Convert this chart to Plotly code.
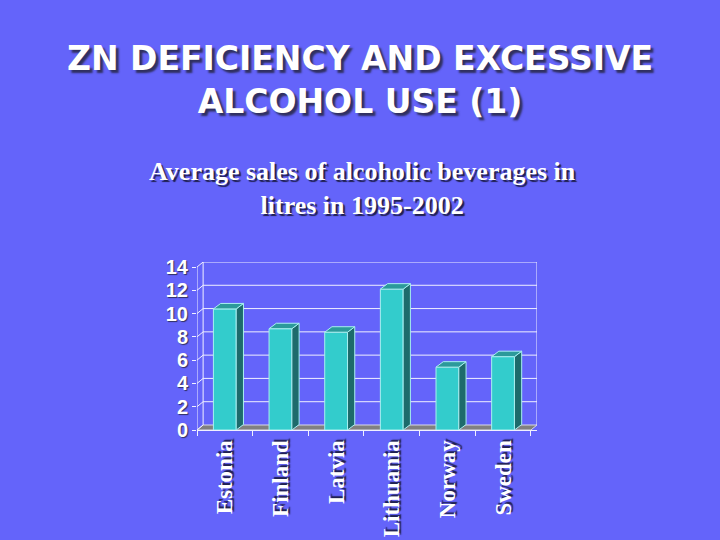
import plotly.graph_objects as go

countries = ["Estonia", "Finland", "Latvia", "Lithuania", "Norway", "Sweden"]
sales = [10.4, 8.7, 8.4, 12.1, 5.4, 6.3]
y_ticks = [0, 2, 4, 6, 8, 10, 12, 14]

BG = "#6464FA"
FRONT = "#33CCCC"
SIDE = "#1D6B6B"
TOP = "#2C9A9A"
LINE = "#F0F0FF"

n = len(countries)
xs = list(range(n))
W = 0.205      # half bar width
DX, DY = 0.13, 0.47     # bar depth offset (data units)
WX, WY = 0.11, 0.43     # wall depth offset
x0, x1 = -0.5, n - 0.5
ymax = max(y_ticks)

fig = go.Figure()

fig.add_trace(go.Bar(x=xs, y=sales, width=2 * W, marker=dict(color=FRONT, line=dict(color="#A8F0F0", width=1)),
                     hoverinfo="skip"))

sx, sy, tx, ty = [], [], [], []
for i, v in zip(xs, sales):
    sx += [i + W, i + W + DX, i + W + DX, i + W, i + W, None]
    sy += [0, DY, v + DY, v, 0, None]
    tx += [i - W, i + W, i + W + DX, i - W + DX, i - W, None]
    ty += [v, v, v + DY, v + DY, v, None]
fig.add_trace(go.Scatter(x=sx, y=sy, fill="toself", fillcolor=SIDE, mode="lines",
                         line=dict(color="#A8F0F0", width=1), hoverinfo="skip"))
fig.add_trace(go.Scatter(x=tx, y=ty, fill="toself", fillcolor=TOP, mode="lines",
                         line=dict(color="#A8F0F0", width=1), hoverinfo="skip"))

shapes = []
shapes.append(dict(type="path", xref="x", yref="y", layer="below",
                   path=f"M {x0} 0 L {x1} 0 L {x1 + WX} {WY} L {x0 + WX} {WY} Z",
                   fillcolor="#808080", line=dict(color="#D8D8E8", width=1)))
for t in y_ticks:
    if t > 0:
        shapes.append(dict(type="line", xref="x", yref="y", layer="below",
                           x0=x0 + WX, x1=x1 + WX, y0=t + WY, y1=t + WY, line=dict(color=LINE, width=1)))
    shapes.append(dict(type="line", xref="x", yref="y", layer="below",
                       x0=x0, x1=x0 + WX, y0=t, y1=t + WY, line=dict(color=LINE, width=1)))
shapes.append(dict(type="line", xref="x", yref="y", layer="below",
                   x0=x0 + WX, x1=x0 + WX, y0=WY, y1=ymax + WY, line=dict(color=LINE, width=1)))
shapes.append(dict(type="line", xref="x", yref="y", layer="below",
                   x0=x1 + WX, x1=x1 + WX, y0=WY, y1=ymax + WY, line=dict(color=LINE, width=1)))
shapes.append(dict(type="line", xref="x", yref="y", layer="below",
                   x0=x0, x1=x0, y0=0, y1=ymax, line=dict(color=LINE, width=1)))

fig.update_layout(
    width=720, height=540,
    paper_bgcolor=BG, plot_bgcolor=BG,
    margin=dict(l=197, r=183, t=262, b=110),
    showlegend=False,
    shapes=shapes,
    xaxis=dict(range=[x0, x1 + WX], tickvals=xs, ticktext=countries, tickangle=-90, automargin=False,
               showgrid=False, zeroline=False, showline=True, linecolor=LINE, ticks="",
               tickfont=dict(family="Liberation Serif", size=23, color="white", weight=700,
                             shadow="2px 2px 1px #202050"),
               minor=dict(tick0=0.5, dtick=1, ticks="outside", ticklen=5, tickcolor=LINE, showgrid=False)),
    yaxis=dict(range=[0, ymax + WY], tickvals=y_ticks, showgrid=False, zeroline=False, showline=False,
               ticks="outside", ticklen=4, tickcolor=LINE, automargin=False,
               tickfont=dict(family="Liberation Sans", size=20, color="white", weight=700,
                             shadow="1px 1px 1px #303060")),
    annotations=[
        dict(xref="paper", yref="paper", x=0.479, y=(430 - 80) / 168, xanchor="center", yanchor="middle",
             showarrow=False, text="ZN DEFICIENCY AND EXCESSIVE<br>ALCOHOL USE (1)",
             font=dict(family="DejaVu Sans", size=33, color="white", weight=700,
                       shadow="3px 3px 2px #303060")),
        dict(xref="paper", yref="paper", x=0.488, y=(430 - 188) / 168, xanchor="center", yanchor="middle",
             showarrow=False, text="Average sales of alcoholic beverages in<br>litres in 1995-2002",
             font=dict(family="Liberation Serif", size=26, color="white", weight=700,
                       shadow="2px 2px 1px #202050")),
    ],
)

fig.write_html("out.html", config={"displayModeBar": False},
               post_script="document.body.style.margin='0';document.body.style.background='" + BG + "';")
